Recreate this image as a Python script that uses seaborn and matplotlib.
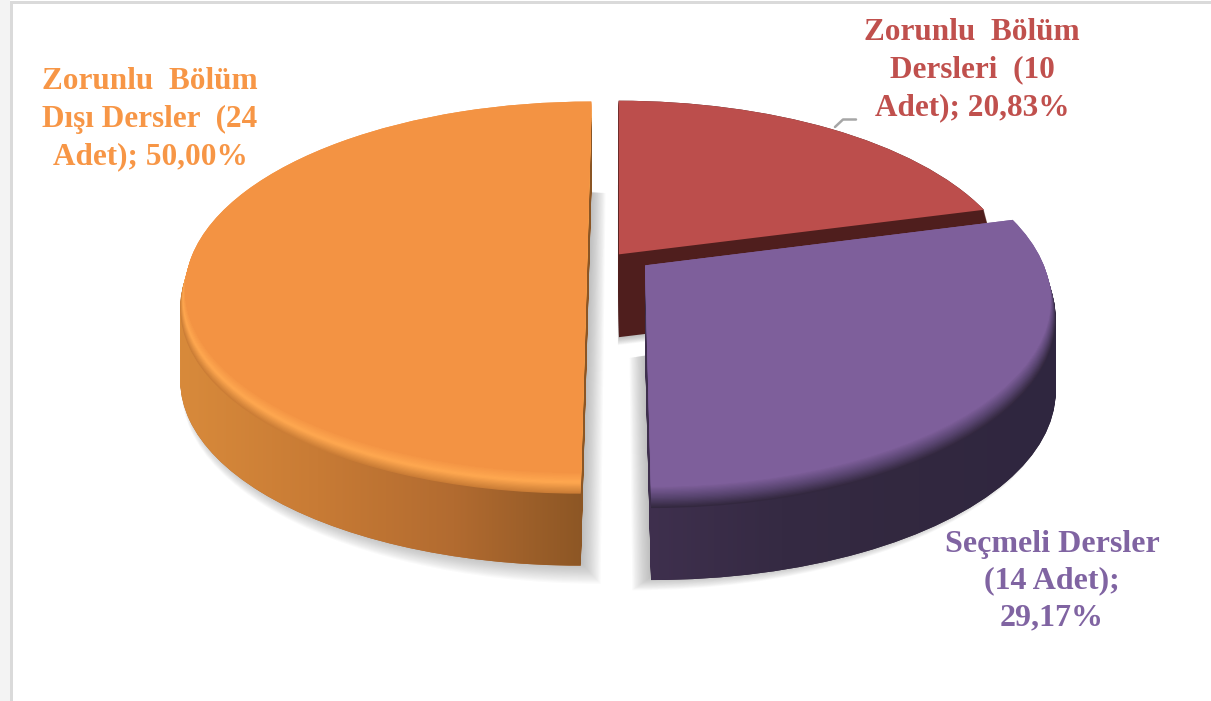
import numpy as np
import matplotlib.pyplot as plt
import seaborn as sns
from matplotlib.lines import Line2D
from matplotlib.patches import Rectangle
from matplotlib.path import Path
from matplotlib.transforms import Affine2D, Transform

# Datos del grafico
CATEGORIAS = ["Zorunlu  Bölüm\nDersleri  (10\nAdet); 20,83%",
              "Seçmeli Dersler\n(14 Adet);\n29,17%",
              "Zorunlu  Bölüm\nDışı Dersler  (24\nAdet); 50,00%"]
VALORES = [10, 14, 24]
EXPLOSION = [0.008, 0.089, 0.076]

# Colores por porcion
CARA = ["#BC4E4C", "#7E5F9B", "#F39343"]
TEXTO = ["#C0504D", "#8064A2", "#F79646"]
PARED = ["#4F1E1D", "#33283F", "#B06A30"]
GRAD_PARED = [None,
              ["#3F304E", "#352A43", "#32283F", "#2F2640"],
              ["#D88A3B", "#C87B35", "#B26B30", "#8A5524"]]
BISEL = [["#4F1E1D", "#4F1E1D", "#4F1E1D"],
         ["#33283F", "#5A4672", "#7E5F9B"],
         ["#CB7D36", "#FFA850", "#F39343"]]
ORDEN_Z = [10, 30, 20]
FACTOR_BAJADA = [0.92, 1, 1]

# Geometria de la vista (pixeles de la figura)
ANCHO, ALTO = 1211, 701
CX, CY = 617, 255.5
ESCALA = 395
PROFUNDIDAD = 90
ALTO_BISEL = 18
RADIO_BISEL = 0.012


class Perspectiva(Transform):
    """Inclina el plano del pastel, lo de adelante queda mas grande."""
    input_dims = output_dims = 2

    def __init__(self, c=0.17, s=0.456):
        super().__init__()
        self.c, self.s = c, s

    def transform_non_affine(self, values):
        xy = np.asarray(values, dtype=float)
        d = 1 + self.c * xy[:, 1]
        return np.column_stack([xy[:, 0] / d, self.s * xy[:, 1] / d])


sns.set_theme(style="white")
plt.rcParams["font.family"] = ["Liberation Serif", "DejaVu Serif"]

fig, ax = plt.subplots(figsize=(ANCHO / 100, ALTO / 100), dpi=100)
fig.subplots_adjust(left=0, right=1, bottom=0, top=1)
persp = Perspectiva()


def capa(colores, bajada=0, dz=0, radio=1.0, alpha=None, f_exp=1.0):
    # Un pastel completo desplazado hacia abajo; apilados dan el volumen
    wedges, _ = ax.pie(VALORES, explode=[e * f_exp for e in EXPLOSION], startangle=90,
                       counterclock=False, radius=radio, colors=colores,
                       wedgeprops={"linewidth": 0, "alpha": alpha})
    transformaciones = []
    for w, z, f in zip(wedges, ORDEN_Z, FACTOR_BAJADA):
        trans = persp + Affine2D().translate(0, -bajada * f / ESCALA)
        w.set_transform(trans + ax.transData)
        w.set_zorder(z + dz)
        transformaciones.append(trans)
    return wedges, transformaciones


# Sombra difusa
for i, t in enumerate(np.linspace(0, 1, 18)):
    capa(["#7f7f7f"] * 3, bajada=98 - 8 * t, dz=-15 + 0.01 * i,
         radio=1.05 - 0.05 * t, alpha=0.035, f_exp=0.45 + 0.55 * t)

# Paredes laterales
caminos = [[], [], []]
bajadas = np.arange(PROFUNDIDAD, ALTO_BISEL - 1, -2.0)
for i, b in enumerate(bajadas):
    wedges, transformaciones = capa(PARED, bajada=b, dz=0.001 * i, radio=1 + RADIO_BISEL)
    for k, w in enumerate(wedges):
        caminos[k].append(transformaciones[k].transform_path(w.get_path()))

for k, grad in enumerate(GRAD_PARED):
    if grad is None:
        continue
    clip = Path.make_compound_path(*caminos[k])
    ext = clip.get_extents()
    im = ax.imshow(np.linspace(0, 1, 256).reshape(1, -1), aspect="auto",
                   cmap=sns.blend_palette(grad, as_cmap=True),
                   extent=(ext.x0, ext.x1, ext.y0, ext.y1), zorder=ORDEN_Z[k] + 1)
    im.set_clip_path(clip, transform=ax.transData)

# Bisel del borde superior
pasos = 18
paletas = [sns.blend_palette(b, pasos) for b in BISEL]
for i in range(pasos):
    t = i / (pasos - 1)
    capa([p[i] for p in paletas], bajada=ALTO_BISEL * (1 - t), dz=2 + 0.01 * i,
         radio=1 + RADIO_BISEL * (1 - t))

# Cara superior
capa(CARA, dz=3)

ax.set_aspect("equal")
ax.set_xlim(-CX / ESCALA, (ANCHO - CX) / ESCALA)
ax.set_ylim(-(ALTO - CY) / ESCALA, CY / ESCALA)
ax.axis("off")

# Etiquetas
fig.text(972 / ANCHO, 1 - 70 / ALTO, CATEGORIAS[0], color=TEXTO[0], fontsize=22.5,
         fontweight="bold", ha="center", va="center", linespacing=1.38)
fig.text(1052 / ANCHO, 1 - 581 / ALTO, CATEGORIAS[1], color=TEXTO[1], fontsize=23,
         fontweight="bold", ha="center", va="center", linespacing=1.35)
fig.text(150 / ANCHO, 1 - 119 / ALTO, CATEGORIAS[2], color=TEXTO[2], fontsize=22.5,
         fontweight="bold", ha="center", va="center", linespacing=1.38)

# Linea guia de la etiqueta roja
fig.add_artist(Line2D([835 / ANCHO, 843 / ANCHO, 856 / ANCHO],
                      [1 - 127 / ALTO, 1 - 119.5 / ALTO, 1 - 119.5 / ALTO],
                      color="#A6A6A6", lw=1.8))

# Marco gris de la captura
fig.add_artist(Rectangle((0, 0), 10 / ANCHO, 1, color="#F3F3F3", lw=0,
                         transform=fig.transFigure))
fig.add_artist(Rectangle((10 / ANCHO, 1 - 4 / ALTO), 1, 3 / ALTO, color="#DADADA", lw=0,
                         transform=fig.transFigure))
fig.add_artist(Rectangle((10 / ANCHO, 0), 3 / ANCHO, 1 - 1 / ALTO, color="#DADADA", lw=0,
                         transform=fig.transFigure))

plt.savefig("out.png", dpi=100)
